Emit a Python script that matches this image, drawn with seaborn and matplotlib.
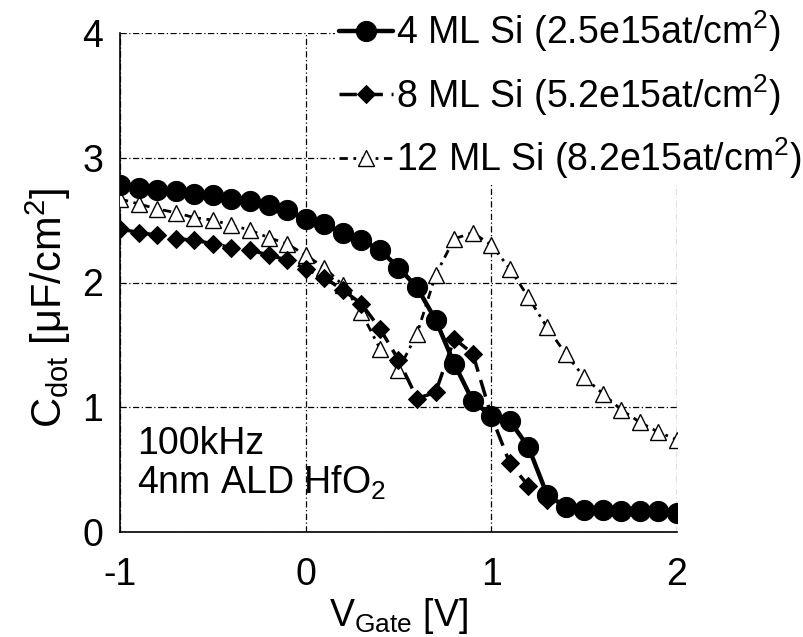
import matplotlib
matplotlib.use("Agg")
import matplotlib.pyplot as plt
import seaborn as sns
import pandas as pd

# ---- data ----
v_gate = [-1.0, -0.9, -0.8, -0.7, -0.6, -0.5, -0.4, -0.3, -0.2, -0.1,
          0.0, 0.1, 0.2, 0.3, 0.4, 0.5, 0.6, 0.7, 0.8, 0.9,
          1.0, 1.1, 1.2, 1.3, 1.4, 1.5, 1.6, 1.7, 1.8, 1.9, 2.0]
c_4ml = [2.78, 2.76, 2.74, 2.73, 2.71, 2.70, 2.67, 2.65, 2.62, 2.58,
         2.51, 2.47, 2.40, 2.34, 2.26, 2.12, 1.96, 1.70, 1.35, 1.05,
         0.93, 0.89, 0.68, 0.30, 0.20, 0.18, 0.18, 0.17, 0.17, 0.17, 0.15]
c_8ml = [2.43, 2.40, 2.38, 2.35, 2.34, 2.31, 2.28, 2.26, 2.22, 2.18,
         2.11, 2.04, 1.94, 1.83, 1.63, 1.38, 1.07, 1.12, 1.55, 1.43,
         0.93, 0.55, 0.37, 0.26, 0.19, 0.18, 0.18, 0.17, 0.17, 0.16, 0.15]
c_12ml = [2.67, 2.63, 2.59, 2.56, 2.52, 2.50, 2.46, 2.42, 2.36, 2.31,
          2.22, 2.12, 1.98, 1.76, 1.47, 1.30, 1.59, 2.06, 2.35, 2.40,
          2.30, 2.11, 1.88, 1.64, 1.43, 1.24, 1.11, 0.98, 0.88, 0.80, 0.74]
labels = [r"4 ML Si (2.5e15at/cm$^2$)",
          r"8 ML Si (5.2e15at/cm$^2$)",
          r"12 ML Si (8.2e15at/cm$^2$)"]
x_ticks = [-1, 0, 1, 2]
y_ticks = [0, 1, 2, 3, 4]

sns.set_theme(style="white")
plt.rcParams["font.family"] = ["Liberation Sans", "DejaVu Sans"]
plt.rcParams["mathtext.fontset"] = "custom"
plt.rcParams["mathtext.rm"] = "Liberation Sans"
plt.rcParams["mathtext.it"] = "Liberation Sans:italic"
plt.rcParams["mathtext.bf"] = "Liberation Sans:bold"
plt.rcParams["text.color"] = "black"
plt.rcParams["axes.labelcolor"] = "black"
plt.rcParams["xtick.color"] = "black"
plt.rcParams["ytick.color"] = "black"

FS = 27

fig = plt.figure(figsize=(8.04, 6.37), dpi=100)
ax = fig.add_axes([120 / 804, 1 - 532 / 637, (677 - 120) / 804, (532 - 33) / 637])

df = pd.DataFrame({"V": v_gate, "c4": c_4ml, "c8": c_8ml, "c12": c_12ml})

sns.lineplot(data=df, x="V", y="c12", ax=ax, color="black", sort=False,
             linewidth=2.0, linestyle=(0, (3, 2, 1, 2)), marker="^",
             markersize=12, markerfacecolor="white", markeredgecolor="black",
             markeredgewidth=1.0, label=labels[2], zorder=3, errorbar=None)
sns.lineplot(data=df, x="V", y="c8", ax=ax, color="black", sort=False,
             linewidth=2.5, linestyle=(0, (5, 2.5)), marker="D",
             markersize=9.5, markerfacecolor="black", markeredgecolor="black",
             label=labels[1], zorder=4, errorbar=None)
sns.lineplot(data=df, x="V", y="c4", ax=ax, color="black", sort=False,
             linewidth=3.2, linestyle="-", marker="o",
             markersize=14.5, markerfacecolor="black", markeredgecolor="black",
             label=labels[0], zorder=5, errorbar=None)

ax.set_xlim(-1, 2)
ax.set_ylim(0, 4)
ax.set_xticks(x_ticks)
ax.set_yticks(y_ticks)
ax.set_xticklabels([str(t) for t in x_ticks], fontsize=FS, color="black")
ax.set_yticklabels([str(t) for t in y_ticks], fontsize=FS, color="black")
ax.tick_params(axis="x", direction="in", length=7, width=1, pad=18, colors="black")
ax.tick_params(axis="y", direction="in", length=5, width=1, pad=12, colors="black")
ax.grid(True, color="black", linewidth=0.9, linestyle=(0, (5, 2, 1, 2)))
ax.set_axisbelow(True)
for s in ["top", "right"]:
    ax.spines[s].set_visible(False)
for s in ["left", "bottom"]:
    ax.spines[s].set_color("black")
    ax.spines[s].set_linewidth(1.2)

ax.set_xlabel(r"V$_{\rm Gate}$ [V]", fontsize=FS, labelpad=2, color="black")
ax.set_ylabel(r"C$_{\rm dot}$ [μF/cm$^2$]", fontsize=30, color="black")
ax.yaxis.set_label_coords(-0.085, 0.449)

ax.text(0.03, 0.136, "100kHz\n4nm ALD HfO$_2$", transform=ax.transAxes,
        fontsize=FS, va="center", ha="left", linespacing=1.05, color="black")

handles, labs = ax.get_legend_handles_labels()
order = [labs.index(l) for l in labels]
leg = ax.legend([handles[i] for i in order], [labs[i] for i in order],
                loc="upper left", bbox_to_anchor=(335 / 804, 1 - 5 / 637),
                bbox_transform=fig.transFigure, fontsize=FS,
                frameon=True, facecolor="white", edgecolor="none",
                framealpha=1.0, borderpad=0.1, handlelength=1.45,
                handletextpad=0.08, labelspacing=0.47, borderaxespad=0,
                labelcolor="black")
leg.set_zorder(10)

fig.savefig("out.png", dpi=100)
